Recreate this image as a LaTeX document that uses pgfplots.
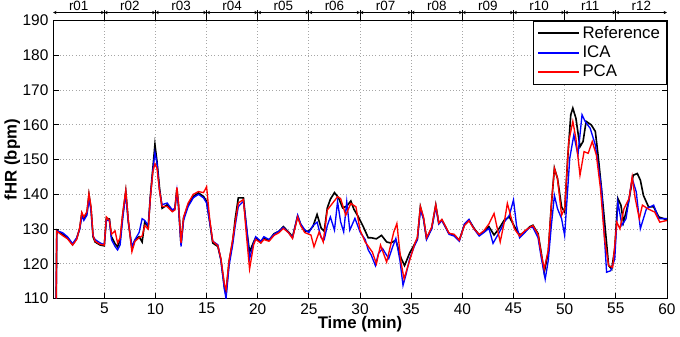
\documentclass[border=0pt]{standalone}
\usepackage{fontspec}
\setmainfont{Liberation Sans}
\usepackage{pgfplots}
\pgfplotsset{compat=1.18}
\usepackage{pgfplotstable}
\usetikzlibrary{arrows.meta}

\pgfplotstableread{
t v
0.3 110
0.35 129.7
0.9 128.5
1.4 127.6
1.9 125.5
2.3 127.3
2.6 130.2
2.8 134.5
3.0 133
3.3 134.5
3.5 139.9
3.7 136
3.9 127.8
4.1 126.3
4.6 125.4
5.0 125.2
5.2 133.1
5.5 132.9
5.7 127.8
6.05 125.8
6.3 124.9
6.55 126.8
6.8 134
7.1 140.8
7.35 132.1
7.7 124.4
8.0 126.8
8.4 127.8
8.7 126.3
8.95 132
9.3 130.7
9.5 139.4
9.75 147.6
9.95 154.3
10.15 149.5
10.4 141.8
10.65 136
11.15 137
11.65 135.2
11.9 135.8
12.1 141.6
12.25 137.1
12.5 125.6
12.75 133.2
13.2 137
13.7 139.4
14.2 140.4
14.7 139.4
15.0 138
15.3 132.2
15.6 126
16.1 125
16.4 121.2
16.75 113
16.9 111.5
17.2 120.7
17.55 126.5
17.8 133
18.1 139
18.6 139
18.9 130.2
19.2 123.4
19.6 126.3
19.8 127.5
20.3 126.1
20.6 127.3
21.1 126.8
21.6 128.7
22.1 129.4
22.5 130.7
23.0 129.2
23.4 127.8
23.9 133.7
24.2 131.3
24.6 129.4
25.0 129.4
25.4 130.8
25.8 134.2
26.2 130.3
26.5 129.4
26.8 136.1
27.1 138.6
27.5 140.5
27.9 139
28.3 136.1
28.7 136.6
29.1 138.1
29.4 135.7
29.8 133.7
30.3 130.8
30.8 127.5
31.1 127.5
31.6 127.2
32.1 128.2
32.6 126.3
33.0 126
33.5 126.8
34.0 121.7
34.35 119.5
34.85 123.1
35.3 125.5
35.6 127
35.9 136.4
36.2 133.1
36.5 127.3
37.0 130.2
37.4 136.9
37.7 131.6
38.0 132.6
38.35 130.7
38.7 128.7
39.2 128.3
39.7 126.8
40.2 131.2
40.65 132.6
41.15 130.2
41.65 128.3
42.1 129.2
42.6 130.7
43.1 128.3
43.6 130.2
44.1 132.6
44.6 133.5
45.1 130.7
45.6 128.3
46.1 129.2
46.6 130.7
46.9 131.1
47.4 128.7
47.7 123.4
48.0 117.6
48.4 123.4
48.7 136.9
49.0 147.5
49.3 144.6
49.7 136.4
50.0 134.9
50.3 150.4
50.6 162.9
50.8 164.8
51.1 161.9
51.5 153.7
51.8 155.2
52.1 161
52.6 160
53.0 158.1
53.3 150.4
53.6 141.7
54.0 129.1
54.3 119.5
54.6 118.5
54.9 124.3
55.2 138.8
55.5 136.9
55.75 132
56.25 137.8
56.7 145.5
57.1 146
57.4 144.1
57.7 139.7
58.2 136.4
58.7 136.4
59.2 133.5
59.7 133
60 132.5
}\refdata

\pgfplotstableread{
t v
0.3 110
0.35 129.5
0.9 129
1.4 127.8
1.9 125.8
2.3 127.5
2.6 130
2.8 133.8
3.0 132.5
3.3 134
3.5 138.5
3.7 135.5
3.9 128
4.1 127
4.6 126
5.0 125.5
5.2 132.5
5.5 132.5
5.7 127
6.05 125
6.3 124
6.55 125.5
6.8 133
7.1 140.2
7.35 132
7.7 125
8.0 127
8.4 129
8.7 133
8.95 132.5
9.3 131
9.5 139
9.75 147
9.95 152
10.15 149
10.4 141
10.65 137
11.15 137.5
11.65 135.5
11.9 136
12.1 141
12.25 136.5
12.5 125
12.75 132.5
13.2 136.5
13.7 139
14.2 140
14.7 139
15.0 137.5
15.3 132
15.6 126.5
16.1 125.5
16.4 121
16.75 112.5
16.9 110
17.2 119.5
17.55 125.5
17.8 131
18.1 136.5
18.6 138
18.9 131
19.2 121.5
19.6 126
19.8 127.8
20.3 126.5
20.6 127.8
21.1 127
21.6 128.5
22.1 129.5
22.5 130.5
23.0 129
23.4 127.5
23.9 134
24.2 131.5
24.6 129.8
25.0 129
25.4 131
25.8 132
26.2 127.5
26.5 127
26.8 131
27.1 133.5
27.5 129.7
27.8 137.9
28.1 132.1
28.4 129.2
28.7 137.9
29.0 129.7
29.5 133.1
30.0 129.2
30.5 127
30.8 124
31.1 122.5
31.5 119.5
31.8 123
32.2 124.4
32.8 121.5
33.2 125
33.5 127.3
33.9 121
34.2 113.8
34.5 117
34.85 121.5
35.3 125
35.6 127
35.9 135.5
36.2 133
36.5 127
37.0 130
37.4 136.5
37.7 131.5
38.0 132.5
38.35 130.5
38.7 128.5
39.2 128
39.7 126.5
40.2 131.5
40.65 132.8
41.15 130
41.65 128
42.1 129
42.6 130.2
43.0 125.9
43.6 129
44.1 132
44.6 134
45.0 138.4
45.3 131
45.6 127.5
46.1 129
46.6 130.5
46.9 130.5
47.4 127.5
47.7 122
48.1 115.6
48.4 121
48.7 131
49.0 139.7
49.3 135.9
49.7 133
50.0 128.2
50.5 150.4
50.9 157.1
51.3 151.3
51.7 162.9
52.0 161
52.5 159
53.0 154.2
53.6 141.7
54.1 117.6
54.5 118
54.9 121.4
55.2 137.8
55.6 131.1
56.0 133
56.6 144.6
57.0 140.7
57.4 130.1
58.0 135.9
58.7 136.9
59.2 133
60 133
}\icadata

\pgfplotstableread{
t v
0.3 110
0.35 129.4
0.9 128.2
1.4 127.2
1.9 125.4
2.3 127
2.6 130.5
2.8 134.8
3.0 133.5
3.3 135
3.5 140.2
3.7 136.5
3.9 128.2
4.1 126.5
4.6 125.6
5.0 125.4
5.2 133.5
5.5 132.5
5.7 128.5
6.05 129.5
6.3 126
6.55 127.5
6.8 134.5
7.1 141.2
7.35 132.5
7.7 123.5
8.0 126.5
8.4 127.5
8.7 128
8.95 131
9.3 130
9.5 139
9.75 146.5
9.95 148.8
10.15 147.5
10.4 141
10.65 136.5
11.15 136.5
11.65 135
11.9 135.5
12.1 142
12.25 137.5
12.5 126
12.75 133.5
13.2 137.5
13.7 140
14.2 140.8
14.7 140.5
15.0 142.2
15.3 133
15.6 126.5
16.1 125.2
16.4 121.5
16.75 114
16.9 112.5
17.2 121
17.55 127
17.8 132
18.1 137.5
18.6 138.5
18.9 128
19.2 118.5
19.6 125.5
19.8 127
20.3 126
20.6 127
21.1 126.5
21.6 128.2
22.1 129
22.5 130.2
23.0 129
23.4 127.3
23.9 133.5
24.2 131
24.6 129
25.2 128.3
25.5 124.9
26.0 129.2
26.4 126.3
26.8 135.5
27.3 137.4
27.8 139.3
28.1 138.8
28.6 134
29.1 137.4
29.6 136.4
30.0 129.7
30.5 126.3
31.2 123.4
31.6 120
32.0 125.4
32.6 120.5
33.3 129.2
33.6 131.6
34.0 120.5
34.3 115.7
34.8 120.5
35.4 126.3
35.6 127.5
35.9 136.5
36.2 133.5
36.5 127.5
37.0 130.5
37.4 137
37.7 131.8
38.0 132.8
38.35 130.8
38.7 128.8
39.2 128.5
39.7 126.8
40.2 131
40.65 132.4
41.15 130
41.65 128.5
42.1 129.5
42.6 131.5
43.1 134.5
43.7 126.3
44.1 132
44.4 137.4
44.8 133
45.1 130
45.6 128
46.1 129.5
46.6 130.5
46.9 131
47.4 128.5
47.7 123
48.0 118.5
48.4 124
48.7 137
49.0 147.5
49.3 144.6
49.7 134
50.0 135.9
50.4 155.2
50.8 161
51.1 156.1
51.5 145.5
51.9 152.3
52.3 151.8
52.7 155.2
53.1 151.3
53.5 141.7
53.9 127.2
54.3 119.5
54.7 119
55.1 132
55.4 130.1
55.8 135.9
56.3 138.8
56.6 145
56.9 138.8
57.3 133
57.6 136.9
58.1 135.9
58.8 134.9
59.3 132
60 132.5
}\pcadata

\tikzset{seg/.style={{Stealth[length=2.5pt,width=2.5pt]}-{Stealth[length=2.5pt,width=2.5pt]}, line width=0.5pt},
  seglab/.style={midway, above, inner sep=1pt, font=\fontsize{10}{11}\selectfont},
  segtick/.style={line width=0.6pt}}

\begin{document}
\begin{tikzpicture}
\begin{axis}[
  scale only axis,
  width=457pt, height=207pt,
  xmin=0, xmax=60, ymin=110, ymax=190,
  xtick={5,10,...,60},
  ytick={110,120,...,190},
  tick align=inside,
  xtick pos=bottom,
  ytick pos=both,
  major tick length=4pt,
  grid=major,
  grid style={dotted, gray!70, line width=0.6pt},
  axis line style={line width=0.6pt},
  tick style={line width=0.6pt, black},
  tick label style={font=\fontsize{11.5}{13}\selectfont},
  /pgf/number format/assume math mode=true,
  xlabel={\textbf{Time (min)}},
  ylabel={\textbf{fHR (bpm)}},
  label style={font=\fontsize{12.5}{14}\selectfont},
  xlabel style={yshift=5pt},
  ylabel style={yshift=-5pt},
  clip mode=individual,
  legend style={at={(1,1)}, anchor=north east, draw=black,
    font=\fontsize{12.5}{14}\selectfont, row sep=0pt, inner xsep=3pt, inner ysep=2pt,
    cells={anchor=west}},
  legend image code/.code={\draw[#1, line width=1.3pt] (0cm,0cm) -- (1.07cm,0cm);},
]
\addplot[black, line width=1.2pt] table[x=t, y=v] {\refdata};
\addlegendentry{Reference}
\addplot[blue, line width=1pt] table[x=t, y=v] {\icadata};
\addlegendentry{ICA}
\addplot[red, line width=1pt] table[x=t, y=v] {\pcadata};
\addlegendentry{PCA}

\draw[seg] ([yshift=6pt]axis cs:0,190) -- ([yshift=6pt]axis cs:5,190) node[seglab] {r01};
\draw[seg] ([yshift=6pt]axis cs:5,190) -- ([yshift=6pt]axis cs:10,190) node[seglab] {r02};
\draw[seg] ([yshift=6pt]axis cs:10,190) -- ([yshift=6pt]axis cs:15,190) node[seglab] {r03};
\draw[seg] ([yshift=6pt]axis cs:15,190) -- ([yshift=6pt]axis cs:20,190) node[seglab] {r04};
\draw[seg] ([yshift=6pt]axis cs:20,190) -- ([yshift=6pt]axis cs:25,190) node[seglab] {r05};
\draw[seg] ([yshift=6pt]axis cs:25,190) -- ([yshift=6pt]axis cs:30,190) node[seglab] {r06};
\draw[seg] ([yshift=6pt]axis cs:30,190) -- ([yshift=6pt]axis cs:35,190) node[seglab] {r07};
\draw[seg] ([yshift=6pt]axis cs:35,190) -- ([yshift=6pt]axis cs:40,190) node[seglab] {r08};
\draw[seg] ([yshift=6pt]axis cs:40,190) -- ([yshift=6pt]axis cs:45,190) node[seglab] {r09};
\draw[seg] ([yshift=6pt]axis cs:45,190) -- ([yshift=6pt]axis cs:50,190) node[seglab] {r10};
\draw[seg] ([yshift=6pt]axis cs:50,190) -- ([yshift=6pt]axis cs:55,190) node[seglab] {r11};
\draw[seg] ([yshift=6pt]axis cs:55,190) -- ([yshift=6pt]axis cs:60,190) node[seglab] {r12};
\draw[segtick] ([yshift=8pt]axis cs:5,190) -- (axis cs:5,190);
\draw[segtick] ([yshift=8pt]axis cs:10,190) -- (axis cs:10,190);
\draw[segtick] ([yshift=8pt]axis cs:15,190) -- (axis cs:15,190);
\draw[segtick] ([yshift=8pt]axis cs:20,190) -- (axis cs:20,190);
\draw[segtick] ([yshift=8pt]axis cs:25,190) -- (axis cs:25,190);
\draw[segtick] ([yshift=8pt]axis cs:30,190) -- (axis cs:30,190);
\draw[segtick] ([yshift=8pt]axis cs:35,190) -- (axis cs:35,190);
\draw[segtick] ([yshift=8pt]axis cs:40,190) -- (axis cs:40,190);
\draw[segtick] ([yshift=8pt]axis cs:45,190) -- (axis cs:45,190);
\draw[segtick] ([yshift=8pt]axis cs:50,190) -- (axis cs:50,190);
\draw[segtick] ([yshift=8pt]axis cs:55,190) -- (axis cs:55,190);
\end{axis}
\end{tikzpicture}
\end{document}
